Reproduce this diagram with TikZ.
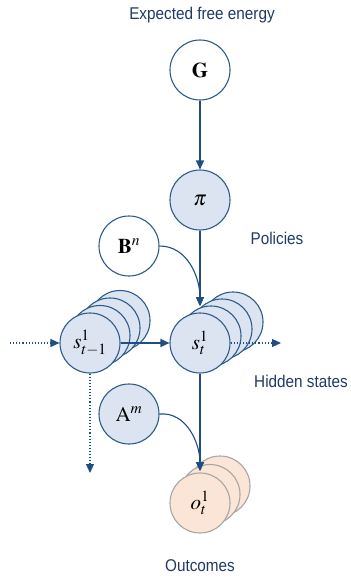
\documentclass[tikz,border=0pt]{standalone}
\usepackage{mathptmx}
\usepackage{fontspec}
\newfontfamily\lab[FakeStretch=0.9]{Liberation Sans}
\usetikzlibrary{arrows.meta}
\definecolor{edge}{HTML}{2E5C8A}
\definecolor{sfill}{HTML}{DCE4F1}
\definecolor{ofill}{HTML}{FBE5D6}
\definecolor{oedge}{HTML}{A6A6A6}
\definecolor{txt}{HTML}{1F3A64}
\definecolor{arr}{HTML}{1F4E82}
\begin{document}
\begin{tikzpicture}[x=1pt,y=-1pt,
  var/.style={circle,draw=edge,line width=1.1pt,minimum size=60pt,inner sep=0pt,font=\fontsize{21}{23}\selectfont},
  wvar/.style={var,fill=white},
  bvar/.style={var,fill=sfill},
  ovar/.style={var,draw=oedge,fill=ofill},
  bdisc/.style={draw=edge,fill=sfill,line width=1.1pt},
  odisc/.style={draw=oedge,fill=ofill,line width=1.1pt},
  lbl/.style={text=txt,font=\lab\fontsize{17}{19}\selectfont},
  link/.style={draw=arr,line width=1.1pt,-{Triangle[width=8pt,length=9pt]}},
  dlink/.style={link,dotted}]
\useasboundingbox (0,0) rectangle (351,579);
% labels
\node[lbl] (tG) at (202,15) {Expected free energy};
\node[lbl] (tP) at (277,238) {Policies};
\node[lbl] (tH) at (301,381) {Hidden states};
\node[lbl] (tO) at (200,566) {Outcomes};
% nodes
\node[wvar] (G) at (200,70) {$\mathbf{G}$};
\node[bvar] (pi) at (200,200) {$\pi$};
\node[wvar] (B) at (129,246) {$\mathbf{B}^{n}$};
% s_{t-1} stack
\foreach \k in {3,2,1} \path[bdisc] ({90+10*\k},{343-7.5*\k}) circle[radius=30pt];
\node[bvar] (sa) at (90,343) {$s^{1}_{t-1}$};
% s_t stack
\foreach \k in {3,2,1} \path[bdisc] ({200+11*\k},{343-7*\k}) circle[radius=30pt];
\node[bvar] (sb) at (200,343) {$s^{1}_{t}$};
\node[bvar] (A) at (129,414) {$\mathrm{A}^{m}$};
% o stack
\foreach \k in {2,1} \path[odisc] ({200+10*\k},{503-8.5*\k}) circle[radius=30pt];
\node[ovar] (o) at (200,503) {$o^{1}_{t}$};
% coordinates
\coordinate (sin) at (200,306);
\coordinate (oin) at (200,471);
\coordinate (lin) at (10,343);
\coordinate (rout) at (281,343);
\coordinate (dout) at (90,473);
% connectors
\draw[link] (G) -- (pi);
\draw[link] (pi) -- (sin);
\draw[link] (B.east) to[out=0,in=90] (sin);
\draw[link] (sa.east) -- (sb.west);
\draw[dlink] (lin) -- (sa.west);
\draw[dlink] (sb.east) -- (rout);
\draw[dlink] (sa.south) -- (dout);
\draw[link] (sb.south) -- (oin);
\draw[link] (A.east) to[out=5,in=90] (oin);
\end{tikzpicture}
\end{document}
